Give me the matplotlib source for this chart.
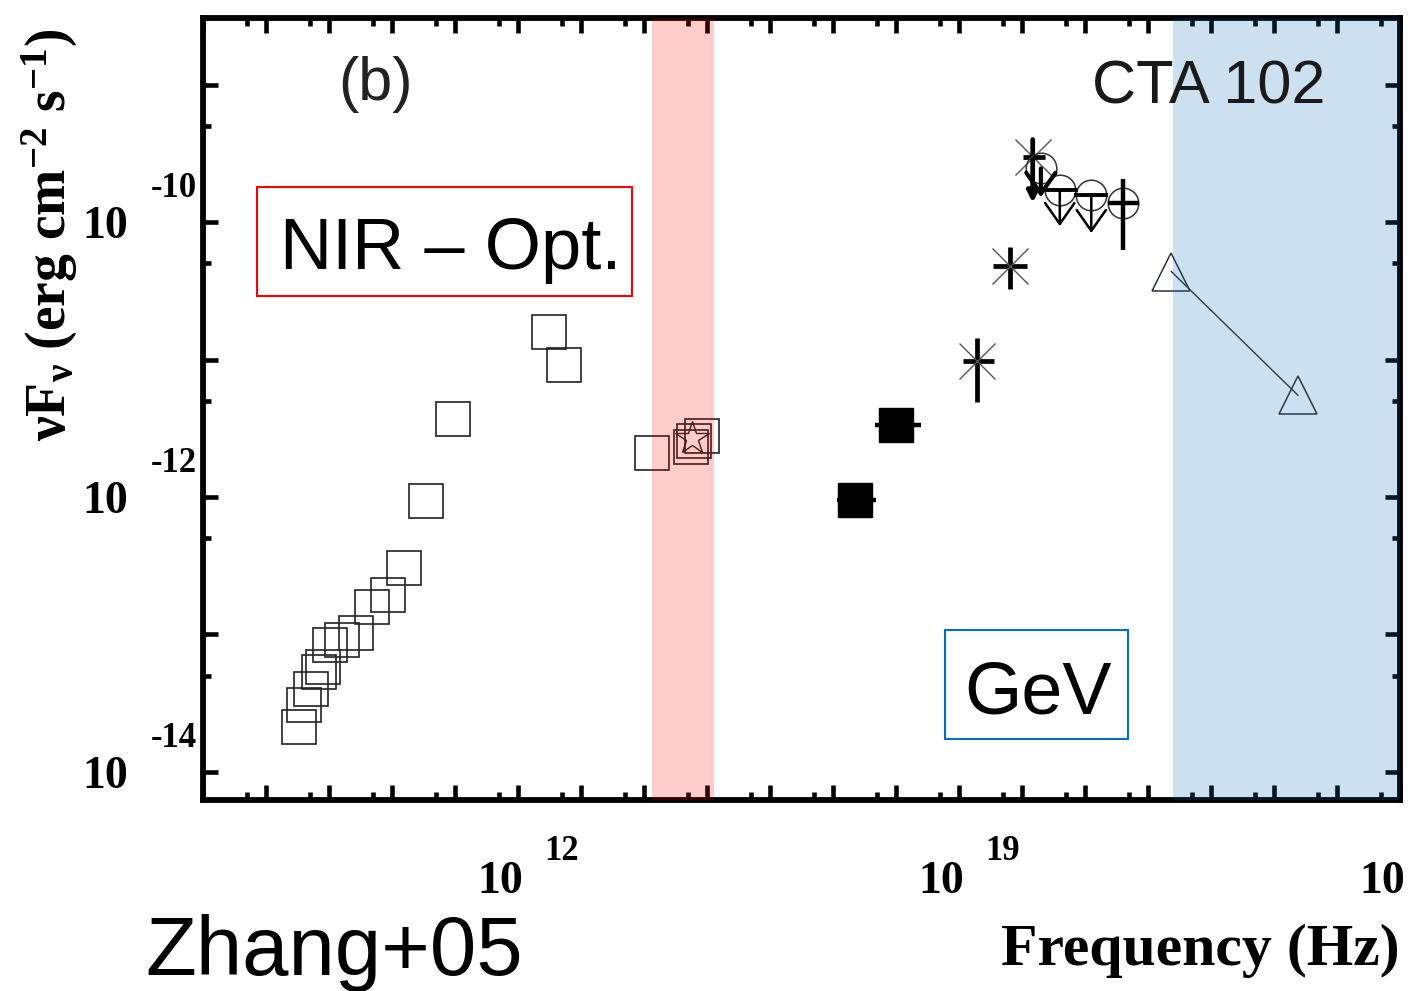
import numpy as np
import matplotlib
matplotlib.use("Agg")
import matplotlib.pyplot as plt
from matplotlib.ticker import FixedLocator, NullFormatter

plt.rcParams['mathtext.fontset'] = 'custom'
plt.rcParams['mathtext.rm'] = 'Liberation Serif:bold'
plt.rcParams['mathtext.it'] = 'Liberation Serif:bold'
plt.rcParams['mathtext.bf'] = 'Liberation Serif:bold'

# ---------------- data (log10 values) ----------------
# radio / IR / optical (open squares)
sq_lognu = [8.52, 8.60, 8.71, 8.84, 8.90, 9.02, 9.21, 9.43, 9.68, 9.94,
            10.19, 10.54, 10.97, 12.49, 12.73, 14.13, 14.75, 14.79, 14.92]
sq_logf = [-13.67, -13.51, -13.40, -13.27, -13.24, -13.08, -13.04, -12.99,
           -12.80, -12.71, -12.52, -12.03, -11.43, -10.80, -11.04, -11.68,
           -11.64, -11.59, -11.56]
# optical star
star_lognu = [14.76]
star_logf = [-11.57]
# X-ray (filled squares)
xr_lognu = [17.35, 18.00]
xr_logf = [-12.02, -11.48]
xr_xlo = [17.06, 17.67]
xr_xhi = [17.68, 18.40]
# hard X-ray (asterisks)
ast_lognu = [19.29, 19.81]
ast_logf = [-11.01, -10.32]
ast_ylo = [-11.31, -10.49]
ast_yhi = [-10.84, -10.18]
ast_xlo = [19.06, 19.54]
ast_xhi = [19.56, 20.08]
# asterisk upper limit
astul_lognu = [20.17]
astul_logf = [-9.53]
astul_ytop = [-9.40]
astul_ytip = [-9.86]
astul_xlo = [20.02]
astul_xhi = [20.37]
# MeV (open circles)
circ_lognu = [20.30, 20.60, 21.10, 21.60]
circ_logf = [-9.61, -9.77, -9.80, -9.86]
# circle upper limits
cul_lognu = [20.30, 20.60, 21.10]
cul_logf = [-9.61, -9.77, -9.80]
cul_ytip = [-9.82, -10.03, -10.08]
cul_xlo = [None, 20.38, 20.86]
cul_xhi = [None, 20.86, 21.33]
# circle with error bars
cerr_lognu = [21.60]
cerr_logf = [-9.86]
cerr_ylo = [-10.20]
cerr_yhi = [-9.69]
cerr_xlo = [21.37]
cerr_xhi = [21.86]
# GeV (triangles)
tri_lognu = [22.37, 24.38]
tri_logf = [-10.36, -11.26]

# shaded bands (log10 frequency)
pink_band = [14.13, 15.11]
blue_band = [22.40, 26.0]

xtick_exps = [12, 19, 26]
ytick_exps = [-10, -12, -14]


def p(a):
    return 10.0 ** np.asarray(a, dtype=float)


fig = plt.figure(figsize=(14.27, 9.91), dpi=100)
ax = fig.add_axes([203 / 1427, 1 - 800 / 991, (1400 - 203) / 1427, (800 - 18) / 991])
ax.set_xscale('log')
ax.set_yscale('log')
ax.set_xlim(1e7, 1e26)
ax.set_ylim(10 ** -14.204, 10 ** -8.516)

# ticks
ax.xaxis.set_major_locator(FixedLocator(10.0 ** np.arange(7, 27)))
ax.xaxis.set_minor_locator(FixedLocator(5 * 10.0 ** np.arange(6, 26)))
ax.yaxis.set_major_locator(FixedLocator(10.0 ** np.arange(-15, -7)))
ax.yaxis.set_minor_locator(FixedLocator(5 * 10.0 ** np.arange(-16, -8)))
for axis in (ax.xaxis, ax.yaxis):
    axis.set_major_formatter(NullFormatter())
    axis.set_minor_formatter(NullFormatter())
ax.tick_params(which='both', direction='in', top=True, right=True,
               width=3.3, color='black')
ax.tick_params(which='major', length=11)
ax.tick_params(which='minor', length=6)
for s in ax.spines.values():
    s.set_linewidth(4.2)

# open squares
ax.plot(p(sq_lognu), p(sq_logf), ls='none', marker='s', ms=25,
        mfc='none', mec='#222222', mew=1.2, zorder=3)
ax.plot(p(star_lognu), p(star_logf), ls='none', marker='*', ms=25,
        mfc='none', mec='#222222', mew=1.0, zorder=3)

# X-ray filled squares
xr_x = p(xr_lognu)
ax.errorbar(xr_x, p(xr_logf),
            xerr=[xr_x - p(xr_xlo), p(xr_xhi) - xr_x],
            fmt='s', ms=24, color='black', mec='black', elinewidth=3.2,
            capsize=0, zorder=3)

# asterisks
ax_x = p(ast_lognu)
ax_y = p(ast_logf)
ax.errorbar(ax_x, ax_y,
            xerr=[ax_x - p(ast_xlo), p(ast_xhi) - ax_x],
            yerr=[ax_y - p(ast_ylo), p(ast_yhi) - ax_y],
            fmt='none', ecolor='black', elinewidth=3.4, capsize=0, zorder=3)
ax.plot(ax_x, ax_y, ls='none', marker='x', ms=26, mec='#555555', mew=1.0, zorder=3)

# asterisk upper limit
ux = p(astul_lognu)
uy = p(astul_logf)
ax.plot(ux, uy, ls='none', marker='x', ms=26, mec='#555555', mew=1.0, zorder=3)
ax.errorbar(ux, uy, xerr=[ux - p(astul_xlo), p(astul_xhi) - ux],
            fmt='none', ecolor='black', elinewidth=3.4, capsize=0, zorder=3)
for x0, yt, yb in zip(astul_lognu, astul_ytop, astul_ytip):
    ax.annotate('', xy=(10 ** x0, 10 ** yb), xytext=(10 ** x0, 10 ** yt),
                arrowprops=dict(arrowstyle='-|>', lw=3.4, color='black',
                                mutation_scale=16, shrinkA=0, shrinkB=0),
                zorder=3)

# open circles
ax.plot(p(circ_lognu), p(circ_logf), ls='none', marker='o', ms=22,
        mfc='none', mec='#333333', mew=1.1, zorder=3)
for i, (x0, y0, yb) in enumerate(zip(cul_lognu, cul_logf, cul_ytip)):
    lw_a = 3.0 if i == 0 else 1.8
    ax.annotate('', xy=(10 ** x0, 10 ** yb), xytext=(10 ** x0, 10 ** y0),
                arrowprops=dict(arrowstyle='->,head_length=0.5,head_width=0.35',
                                lw=lw_a, color='black',
                                mutation_scale=30, shrinkA=0, shrinkB=0),
                zorder=3)
    if cul_xlo[i] is not None:
        ax.plot([10 ** cul_xlo[i], 10 ** cul_xhi[i]], [10 ** y0, 10 ** y0],
                color='black', lw=2.8, zorder=3)
cx = p(cerr_lognu)
cy = p(cerr_logf)
ax.errorbar(cx, cy, xerr=[cx - p(cerr_xlo), p(cerr_xhi) - cx],
            yerr=[cy - p(cerr_ylo), p(cerr_yhi) - cy],
            fmt='none', ecolor='black', elinewidth=3.2, capsize=0, zorder=3)

# triangles
ax.plot(p(tri_lognu), p(tri_logf), ls='-', lw=1.0, color='#2b3340',
        marker='^', ms=27, mfc='none', mec='#2b3340', mew=1.1, zorder=3)

# bands (semi-transparent, drawn on top)
ax.axvspan(10 ** pink_band[0], 10 ** pink_band[1], color='red', alpha=0.2,
           lw=0, zorder=6)
ax.axvspan(10 ** blue_band[0], 10 ** blue_band[1], color='#0066b3', alpha=0.2,
           lw=0, zorder=6)

# custom tick labels
for e in xtick_exps:
    ax.annotate('10', xy=(10.0 ** e, 0), xycoords=('data', 'axes fraction'),
                xytext=(-18, -93), textcoords='offset pixels', ha='center',
                va='baseline', fontsize=33, fontweight='bold',
                family='Liberation Serif', annotation_clip=False)
    ax.annotate(str(e), xy=(10.0 ** e, 0), xycoords=('data', 'axes fraction'),
                xytext=(26, -60), textcoords='offset pixels', ha='left',
                va='baseline', fontsize=25, fontweight='bold',
                family='Liberation Serif', annotation_clip=False)
for e in ytick_exps:
    ax.annotate('10', xy=(0, 10.0 ** e), xycoords=('axes fraction', 'data'),
                xytext=(-75, -16), textcoords='offset pixels', ha='right',
                va='baseline', fontsize=33, fontweight='bold',
                family='Liberation Serif', annotation_clip=False)
    ax.annotate(str(e), xy=(0, 10.0 ** e), xycoords=('axes fraction', 'data'),
                xytext=(-6, 25), textcoords='offset pixels', ha='right',
                va='baseline', fontsize=25, fontweight='bold',
                family='Liberation Serif', annotation_clip=False)

# axis labels
fig.text(50 / 1427, 1 - 235 / 991,
         r'$\mathrm{\nu F_{\nu}}$ (erg cm$^{\mathrm{-2}}$ s$^{\mathrm{-1}}$)',
         rotation=90, ha='center', va='center', fontsize=40,
         fontweight='bold', family='Liberation Serif')
fig.text(1400 / 1427, 1 - 965 / 991, 'Frequency (Hz)', ha='right',
         va='baseline', fontsize=43, fontweight='bold', family='Liberation Serif')

# annotations
fig.text(376 / 1427, 1 - 100 / 991, '(b)', ha='center', va='baseline',
         fontsize=44, color='#222222', family='Liberation Sans')
fig.text(1326 / 1427, 1 - 103 / 991, 'CTA 102', ha='right', va='baseline',
         fontsize=44, color='#1a1a1a', family='Liberation Sans')
fig.text(451 / 1427, 1 - 269 / 991, 'NIR – Opt.', ha='center', va='baseline',
         fontsize=52, color='black', family='Liberation Sans')
fig.patches.append(plt.Rectangle((257 / 1427, 1 - 296 / 991), 375 / 1427,
                                 109 / 991, transform=fig.transFigure,
                                 fill=False, ec='#ff0000', lw=1.5))
fig.text(1038 / 1427, 1 - 713 / 991, 'GeV', ha='center', va='baseline',
         fontsize=53, color='black', family='Liberation Sans')
fig.patches.append(plt.Rectangle((945 / 1427, 1 - 739 / 991), 183 / 1427,
                                 109 / 991, transform=fig.transFigure,
                                 fill=False, ec='#0070c0', lw=1.5))
fig.text(145 / 1427, 1 - 975 / 991, 'Zhang+05', ha='left', va='baseline',
         fontsize=60, color='black', family='Liberation Sans')

fig.savefig('out.png', dpi=100)
